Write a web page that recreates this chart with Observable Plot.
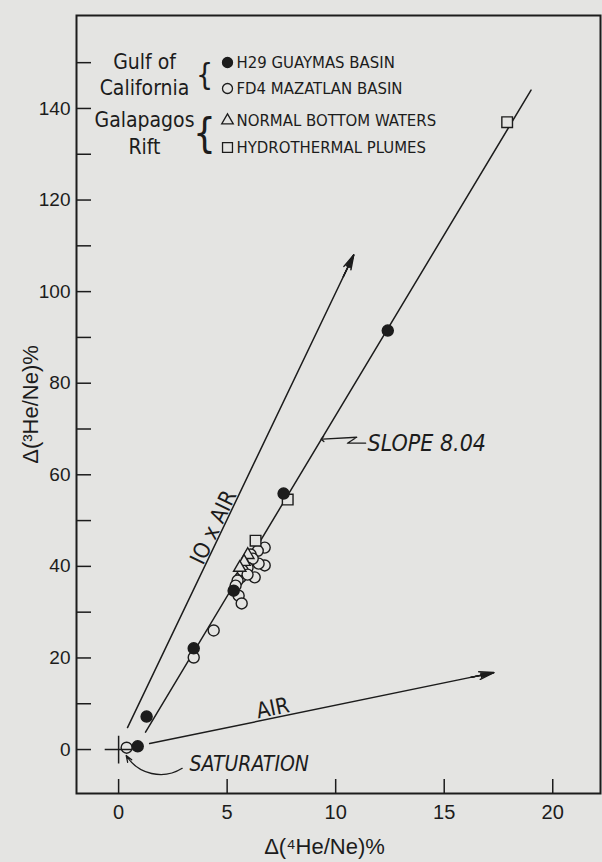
<!DOCTYPE html>
<html>
<head>
<meta charset="utf-8">
<script src="https://cdn.jsdelivr.net/npm/d3@7"></script>
<script src="https://cdn.jsdelivr.net/npm/@observablehq/plot@0.6"></script>
<style>
  html, body { margin: 0; padding: 0; background: #e4e4e2; }
  #chart svg { display: block; }
  g[aria-label="axis-title"] text { letter-spacing: 1.5px; }
</style>
</head>
<body>
<div id="chart"></div>
<script>
// ---------- data ----------
const xTicks = [0, 5, 10, 15, 20];
const yTicks = [0, 10, 20, 30, 40, 50, 60, 70, 80, 90, 100, 110, 120, 130, 140, 150];
const yLabels = [0, 20, 40, 60, 80, 100, 120, 140];

// H29 Guaymas Basin (filled circles)
const guaymas = [
  {x: 0.88, y: 0.7}, {x: 1.29, y: 7.2}, {x: 3.46, y: 22.1},
  {x: 5.30, y: 34.7}, {x: 7.60, y: 55.9}, {x: 12.4, y: 91.5}
];
// FD4 Mazatlan Basin (open circles)
const mazatlan = [
  {x: 0.37, y: 0.4}, {x: 3.46, y: 20.1}, {x: 4.38, y: 26.0},
  {x: 6.73, y: 44.1}, {x: 6.41, y: 43.4}, {x: 6.08, y: 42.6},
  {x: 6.73, y: 40.2}, {x: 6.45, y: 40.6}, {x: 6.18, y: 41.7},
  {x: 5.94, y: 39.7}, {x: 6.27, y: 37.6}, {x: 5.62, y: 37.6},
  {x: 5.71, y: 39.1}, {x: 5.48, y: 36.9}, {x: 5.94, y: 38.2},
  {x: 5.39, y: 35.8}, {x: 5.53, y: 33.6}, {x: 5.67, y: 31.9}
];
// Galapagos Rift, normal bottom waters (triangles)
const normalBottom = [{x: 5.95, y: 42.5}, {x: 5.78, y: 41.0}, {x: 5.58, y: 39.7}];
// Galapagos Rift, hydrothermal plumes (squares)
const plumes = [{x: 6.31, y: 45.6}, {x: 7.79, y: 54.6}, {x: 17.9, y: 137.0}];
// saturation point
const saturation = [{x: 0, y: 0}];

// reference lines / arrows
const slopeLine = [{x: 1.24, y: 3.8}, {x: 19.0, y: 144.0}];
const tenAirArrow = [{x1: 0.41, y1: 4.8, x2: 10.83, y2: 108.0}];
const airArrow = [{x1: 1.43, y1: 1.3, x2: 17.28, y2: 16.8}];
const saturationArrow = [{x1: 2.93, y1: -4.1, x2: 0.35, y2: -1.3}];
const slopePointer = [{x: 11.38, y: 66.9}, {x: 10.54, y: 66.9}, {x: 10.97, y: 68.2}, {x: 9.39, y: 67.8}];

// annotation texts
const tenAirLabel = [{x: 4.38, y: 48.5, text: "IO x AIR"}];
const airLabel = [{x: 7.1, y: 9.0, text: "AIR"}];
const slopeLabel = [{x: 11.47, y: 66.8, text: "SLOPE 8.04"}];
const saturationLabel = [{x: 3.27, y: -3.3, text: "SATURATION"}];

// legend texts
const groupLabels = ["Gulf of", "California", "Galapagos", "Rift"];
const entryLabels = ["H29 GUAYMAS BASIN", "FD4 MAZATLAN BASIN", "NORMAL BOTTOM WATERS", "HYDROTHERMAL PLUMES"];
const xTitle = "\u0394(\u2074He/Ne)%";
const yTitle = "\u0394(\u00b3He/Ne)%";

// ---------- layout ----------
const INK = "#1c1c1c", PAPER = "#e4e4e2";
const W = 602, H = 862, mL = 76, mR = 2, mT = 15, mB = 69;
const plotW = W - mL - mR, plotH = H - mT - mB;
const narrow = "'Liberation Sans Narrow','DejaVu Sans Condensed',sans-serif";
const regular = "'Liberation Sans',Arial,sans-serif";

const legendRowDy = [47, 73, 105, 132];
const entrySymbols = ["circle", "circle", "triangle", "square"];
const entryFill = [INK, PAPER, PAPER, PAPER];
const entryR = [5, 5, 4.3, 5.6];

const legendMarks = [];
groupLabels.forEach((t, i) => legendMarks.push(
  Plot.text([t], {text: d => d, frameAnchor: "top-left", dx: 68, dy: legendRowDy[i],
    textAnchor: "middle", lineAnchor: "middle", fontSize: 21, fontFamily: narrow, fill: INK})
));
[[60, 30], [119, 40]].forEach(([dy, fs]) => legendMarks.push(
  Plot.text(["{"], {text: d => d, frameAnchor: "top-left", dx: 128, dy,
    textAnchor: "middle", lineAnchor: "middle", fontSize: fs, fontWeight: 300, fontFamily: narrow, fill: INK})
));
entryLabels.forEach((t, i) => {
  legendMarks.push(Plot.dot([t], {frameAnchor: "top-left", dx: 151, dy: legendRowDy[i],
    symbol: entrySymbols[i], r: entryR[i], fill: entryFill[i], stroke: INK, strokeWidth: 1.3}));
  legendMarks.push(Plot.text([t], {text: d => d, frameAnchor: "top-left", dx: 160, dy: legendRowDy[i],
    textAnchor: "start", lineAnchor: "middle", fontSize: 16.6, fontFamily: narrow, fill: INK}));
});

// straight arrows; extra short chevrons near the tip make the heads look solid
const arrowMarks = [];
[[tenAirArrow, 500], [airArrow, 328]].forEach(([data, skip]) => {
  arrowMarks.push(Plot.arrow(data, {x1: "x1", y1: "y1", x2: "x2", y2: "y2", stroke: INK, strokeWidth: 1.5, headLength: 15, headAngle: 30}));
  [20, 12, 5].forEach(a => arrowMarks.push(
    Plot.arrow(data, {x1: "x1", y1: "y1", x2: "x2", y2: "y2", stroke: INK, strokeWidth: 1.3, headLength: 15, headAngle: a, insetStart: skip})
  ));
});

const chart = Plot.plot({
  width: W, height: H,
  marginLeft: mL, marginRight: mR, marginTop: mT, marginBottom: mB,
  style: {background: PAPER, color: INK, fontFamily: regular},
  x: {domain: [-1.94, 22.2]},
  y: {domain: [-9.6, 160.3]},
  marks: [
    // inward ticks
    Plot.ruleX(xTicks, {stroke: INK, strokeWidth: 1.5, insetTop: plotH - 14}),
    Plot.ruleY(yTicks, {stroke: INK, strokeWidth: 1.5, insetRight: plotW - 15}),
    Plot.axisX({ticks: xTicks, tickSize: 0, tickPadding: 11, fontSize: 20, label: null, fill: INK}),
    Plot.axisY({ticks: yLabels, tickSize: 0, tickPadding: 6, fontSize: 19, label: null, fill: INK}),
    // reference lines
    Plot.line(slopeLine, {x: "x", y: "y", stroke: INK, strokeWidth: 1.5}),
    ...arrowMarks,
    Plot.arrow(saturationArrow, {x1: "x1", y1: "y1", x2: "x2", y2: "y2", stroke: INK, strokeWidth: 1.3, headLength: 8, headAngle: 40, bend: 45}),
    Plot.line(slopePointer, {x: "x", y: "y", stroke: INK, strokeWidth: 1.3, markerEnd: "arrow"}),
    // data
    Plot.dot(mazatlan, {x: "x", y: "y", r: 5.5, fill: PAPER, stroke: INK, strokeWidth: 1.4}),
    Plot.dot(normalBottom, {x: "x", y: "y", symbol: "triangle", r: 4.6, fill: PAPER, stroke: INK, strokeWidth: 1.4}),
    Plot.dot(plumes, {x: "x", y: "y", symbol: "square", r: 6, fill: PAPER, stroke: INK, strokeWidth: 1.4}),
    Plot.dot(guaymas, {x: "x", y: "y", r: 5.5, fill: INK, stroke: INK}),
    Plot.dot(saturation, {x: "x", y: "y", symbol: "plus", r: 9, stroke: INK, strokeWidth: 1.5}),
    // annotations
    Plot.text(tenAirLabel, {x: "x", y: "y", text: "text", rotate: -64.4, fontSize: 22, fontFamily: narrow, fill: INK}),
    Plot.text(airLabel, {x: "x", y: "y", text: "text", rotate: -11.7, fontSize: 22, fontFamily: narrow, fill: INK}),
    Plot.text(slopeLabel, {x: "x", y: "y", text: "text", textAnchor: "start", fontSize: 23, fontStyle: "italic", fontFamily: narrow, fill: INK}),
    Plot.text(saturationLabel, {x: "x", y: "y", text: "text", textAnchor: "start", fontSize: 21, fontStyle: "italic", fontFamily: narrow, fill: INK}),
    // legend
    ...legendMarks,
    // axis titles
    Plot.text([xTitle], {text: d => d, frameAnchor: "bottom", dx: -14, dy: 53, textAnchor: "middle", lineAnchor: "middle",
      fontSize: 22, fontFamily: regular, fill: INK, ariaLabel: "axis-title"}),
    Plot.text([yTitle], {text: d => d, frameAnchor: "left", dx: -46, rotate: -90, textAnchor: "middle", lineAnchor: "middle",
      fontSize: 22, fontFamily: regular, fill: INK, ariaLabel: "axis-title"}),
    Plot.frame({stroke: INK, strokeWidth: 2})
  ]
});
document.getElementById("chart").append(chart);
</script>
</body>
</html>
